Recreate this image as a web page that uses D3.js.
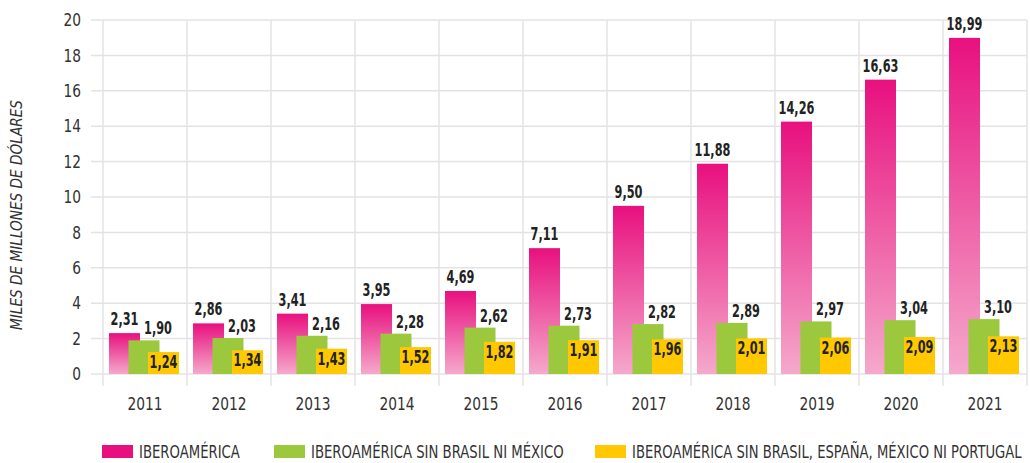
<!DOCTYPE html>
<html>
<head>
<meta charset="utf-8">
<script src="https://cdn.jsdelivr.net/npm/d3@7"></script>
<style>
  body { margin: 0; background: #fff; }
  svg text { font-family: "Liberation Sans Narrow", "DejaVu Sans Condensed", sans-serif; }
</style>
</head>
<body>
<div id="chart"></div>
<script>
// data
const years = ["2011", "2012", "2013", "2014", "2015", "2016", "2017", "2018", "2019", "2020", "2021"];
const ibero = [2.31, 2.86, 3.41, 3.95, 4.69, 7.11, 9.50, 11.88, 14.26, 16.63, 18.99];
const iberoSinBM = [1.90, 2.03, 2.16, 2.28, 2.62, 2.73, 2.82, 2.89, 2.97, 3.04, 3.10];
const iberoSinBEMP = [1.24, 1.34, 1.43, 1.52, 1.82, 1.91, 1.96, 2.01, 2.06, 2.09, 2.13];
const seriesNames = ["IBEROAMÉRICA", "IBEROAMÉRICA SIN BRASIL NI MÉXICO", "IBEROAMÉRICA SIN BRASIL, ESPAÑA, MÉXICO NI PORTUGAL"];
const yTicks = [0, 2, 4, 6, 8, 10, 12, 14, 16, 18, 20];

const width = 1030, height = 463;
const margin = {top: 20, right: 3, bottom: 89, left: 103};

const svg = d3.select("#chart").append("svg")
    .attr("width", width)
    .attr("height", height);

const defs = svg.append("defs");
const grad = defs.append("linearGradient")
    .attr("id", "pinkGrad")
    .attr("x1", 0).attr("y1", 0).attr("x2", 0).attr("y2", 1);
grad.append("stop").attr("offset", "0%").attr("stop-color", "#e8107f");
grad.append("stop").attr("offset", "100%").attr("stop-color", "#f5a9cb");

const x = d3.scaleBand()
    .domain(years)
    .range([margin.left, width - margin.right]);

const y = d3.scaleLinear()
    .domain([0, 20])
    .range([height - margin.bottom, margin.top]);

// horizontal grid
svg.append("g")
    .selectAll("line")
    .data(yTicks)
    .join("line")
    .attr("x1", margin.left - 12)
    .attr("x2", width - margin.right)
    .attr("y1", d => y(d))
    .attr("y2", d => y(d))
    .attr("stroke", "#e3e3e3")
    .attr("stroke-width", 1.5);

// vertical category dividers
const divs = years.map(d => x(d)).concat([x.range()[1]]);
svg.append("g")
    .selectAll("line")
    .data(divs)
    .join("line")
    .attr("x1", d => d)
    .attr("x2", d => d)
    .attr("y1", margin.top)
    .attr("y2", y(0) + 12)
    .attr("stroke", "#e3e3e3")
    .attr("stroke-width", 1.5);

// y axis labels
svg.append("g")
    .selectAll("text")
    .data(yTicks)
    .join("text")
    .attr("transform", d => `translate(${margin.left - 22},${y(d)}) scale(0.9,1)`)
    .attr("dy", "0.36em")
    .attr("text-anchor", "end")
    .attr("fill", "#333")
    .style("font-size", "17px")
    .text(d => d);

// x axis labels
svg.append("g")
    .selectAll("text")
    .data(years)
    .join("text")
    .attr("transform", d => `translate(${x(d) + x.bandwidth() / 2},${y(0) + 36}) scale(0.9,1)`)
    .attr("text-anchor", "middle")
    .attr("fill", "#333")
    .style("font-size", "17px")
    .text(d => d);

// y axis title
svg.append("text")
    .attr("transform", `translate(22, ${(margin.top + y(0)) / 2 + 18}) rotate(-90)`)
    .attr("text-anchor", "middle")
    .attr("fill", "#333")
    .style("font-size", "15px")
    .style("font-style", "italic")
    .attr("textLength", 230)
    .attr("lengthAdjust", "spacingAndGlyphs")
    .text("MILES DE MILLONES DE DÓLARES");

const barW = 31;
const offsets = [6, 25.5, 45];
const colors = ["url(#pinkGrad)", "#9bc83c", "#ffc800"];
const allSeries = [ibero, iberoSinBM, iberoSinBEMP];
const fmt = v => d3.format(".2f")(v).replace(".", ",");

allSeries.forEach((vals, s) => {
    svg.append("g")
        .selectAll("rect")
        .data(vals)
        .join("rect")
        .attr("x", (d, i) => x(years[i]) + offsets[s])
        .attr("y", d => y(d))
        .attr("width", barW)
        .attr("height", d => y(0) - y(d))
        .attr("fill", colors[s]);
});

// value labels
const lbl = svg.append("g")
    .attr("fill", "#222")
    .style("font-size", "17px")
    .style("font-weight", "bold");

const sx = 0.74;
lbl.selectAll(".l0")
    .data(ibero)
    .join("text")
    .attr("transform", (d, i) => `translate(${x(years[i]) + offsets[0] + barW / 2},${y(d) - 8}) scale(${sx},1)`)
    .attr("text-anchor", "middle")
    .text(fmt);

lbl.selectAll(".l1")
    .data(iberoSinBM)
    .join("text")
    .attr("transform", (d, i) => `translate(${x(years[i]) + offsets[1] + barW / 2 + 14},${y(d) - 6}) scale(${sx},1)`)
    .attr("text-anchor", "middle")
    .text(fmt);

lbl.selectAll(".l2")
    .data(iberoSinBEMP)
    .join("text")
    .attr("transform", (d, i) => `translate(${x(years[i]) + offsets[2] + barW / 2},${y(d) + 16}) scale(${sx},1)`)
    .attr("text-anchor", "middle")
    .text(fmt);

// legend
const legendX = [102, 274, 595];
const legendW = [101, 253, 390];
const legendColors = ["#e8107f", "#9bc83c", "#ffc800"];
const leg = svg.append("g");
seriesNames.forEach((name, i) => {
    leg.append("rect")
        .attr("x", legendX[i])
        .attr("y", 445)
        .attr("width", 31)
        .attr("height", 13)
        .attr("fill", legendColors[i]);
    const t = leg.append("text")
        .attr("fill", "#333")
        .style("font-size", "17px")
        .text(name);
    // squeeze the text into the width it takes in the original
    const k = legendW[i] / t.node().getComputedTextLength();
    t.attr("transform", `translate(${legendX[i] + 37},458) scale(${k},1)`);
});
</script>
</body>
</html>
